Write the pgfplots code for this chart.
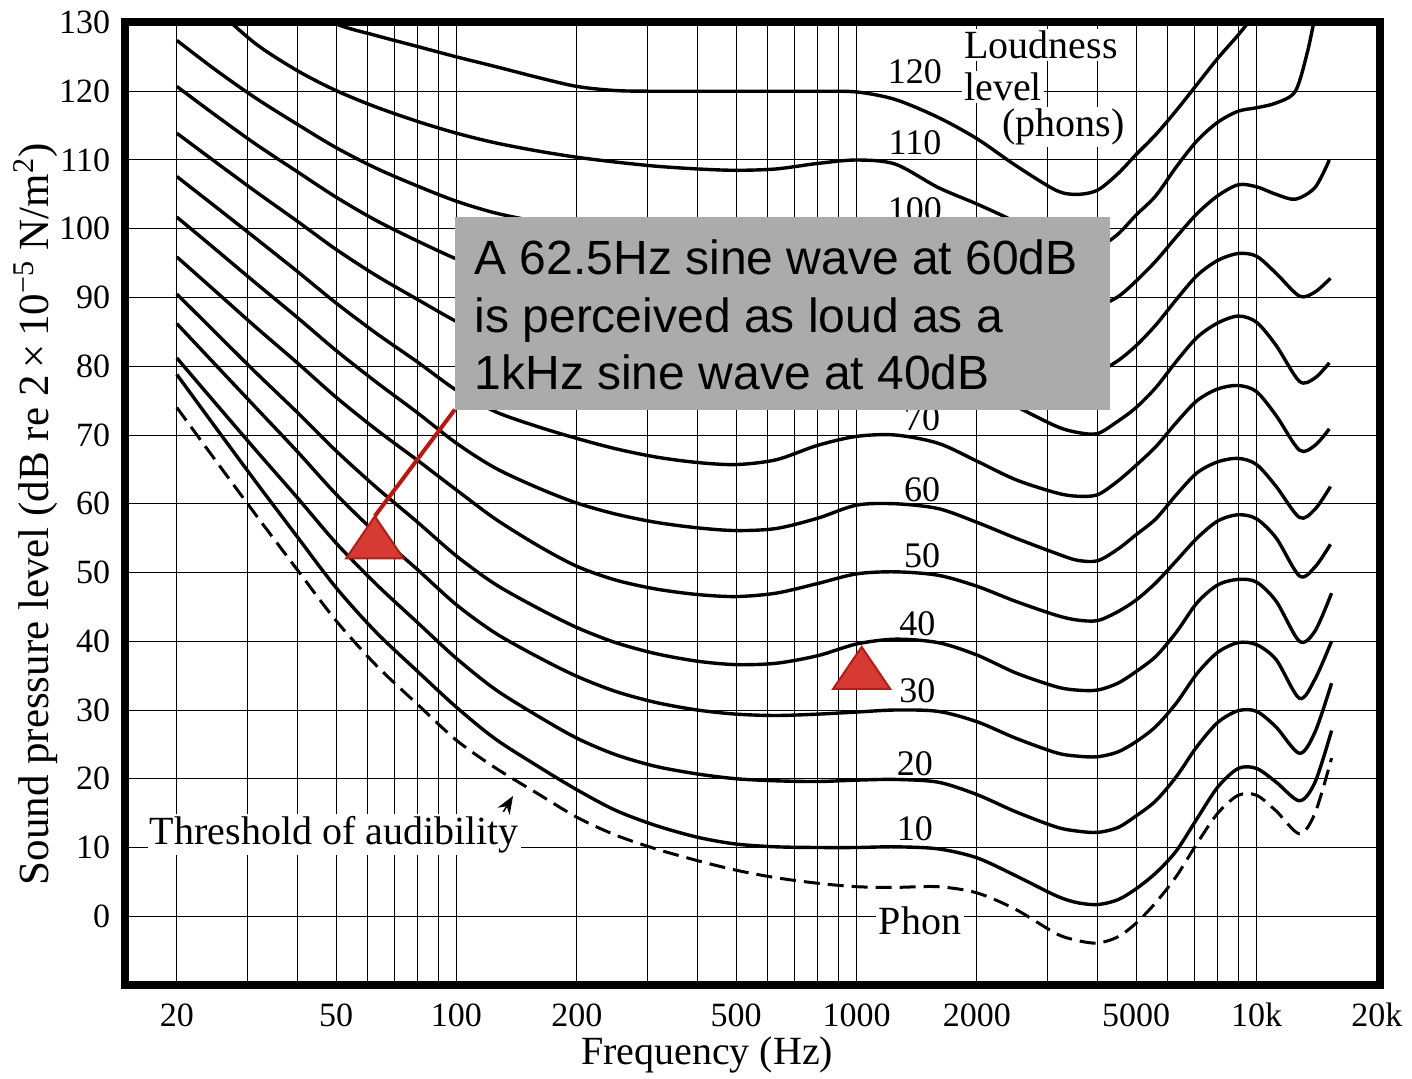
\documentclass[border=0pt]{standalone}
\usepackage{fontspec}
\setmainfont{Liberation Serif}
\newfontfamily\arial{Liberation Sans}
\usepackage{pgfplots}
\pgfplotsset{compat=1.18}
\usetikzlibrary{calc,arrows.meta}

\definecolor{boxgray}{RGB}{171,171,171}
\definecolor{annred}{RGB}{190,22,12}
\definecolor{trifill}{RGB}{214,58,50}
\definecolor{triedge}{RGB}{175,30,25}

\begin{document}
\begin{tikzpicture}
\begin{axis}[
  scale only axis,
  width=627.75pt, height=481.25pt,
  xmode=log,
  xmin=14.8, xmax=20350,
  ymin=-10, ymax=130,
  axis line style={line width=4pt, line cap=rect},
  xtick={20,50,100,200,500,1000,2000,5000,10000,20000},
  xticklabels={20,50,100,200,500,1000,2000,5000,10k,20k},
  minor xtick={30,40,60,70,80,90,300,400,600,700,800,900,3000,4000,6000,7000,8000,9000},
  ytick={0,10,...,130},
  yticklabels={0,10,20,30,40,50,60,70,80,90,100,110,120,130},
  major tick length=0pt, minor tick length=0pt,
  grid=both,
  major grid style={black, line width=0.5pt},
  minor grid style={black, line width=0.5pt},
  tick label style={font=\fontsize{17}{20}\selectfont},
  xticklabel style={anchor=center, yshift=-15pt},
  yticklabel style={anchor=east, inner sep=0pt, xshift=-7pt},
  xlabel={Frequency (Hz)},
  xlabel style={at={(axis description cs:0.464,-0.073)}, anchor=center, font=\fontsize{20}{24}\selectfont},
  ylabel={Sound pressure level (dB re 2\,×\,10\textsuperscript{−5} N/m\textsuperscript{2})},
  ylabel style={at={(axis description cs:-0.071,0.489)}, anchor=center, font=\fontsize{21.5}{25}\selectfont},
  curve/.style={black, line width=1.7pt, smooth, mark=none},
]

% text labels with white background (gridlines broken behind them)
\node[anchor=west, fill=white, inner sep=1pt, font=\fontsize{20}{24}\selectfont] at (axis cs:16.9,11.9) {Threshold of audibility};
\node[fill=white, inner sep=1.5pt, font=\fontsize{20}{24}\selectfont] at (axis cs:1441,-0.6) {Phon};
\node[anchor=west, fill=white, inner sep=1pt, font=\fontsize{20}{24}\selectfont] at (axis cs:1834,126.7) {Loudness};
\node[anchor=west, fill=white, inner sep=1pt, font=\fontsize{20}{24}\selectfont] at (axis cs:1834,120.6) {level};
\node[anchor=west, fill=white, inner sep=1pt, font=\fontsize{20}{24}\selectfont] at (axis cs:2284,114.8) {(phons)};

% curve labels
\begin{scope}[font=\fontsize{18}{20}\selectfont]
\node at (axis cs:1400,122.8) {120};
\node at (axis cs:1400,112.5) {110};
\node at (axis cs:1400,102.8) {100};
\node at (axis cs:1458,72.3) {70};
\node at (axis cs:1458,62.1) {60};
\node at (axis cs:1458,52.4) {50};
\node at (axis cs:1420,42.5) {40};
\node at (axis cs:1420,32.8) {30};
\node at (axis cs:1400,22.2) {20};
\node at (axis cs:1400,12.8) {10};
\end{scope}

\draw[-{Stealth[length=9pt,width=7pt]}, line width=0.8pt] (axis cs:131,15.2) -- (axis cs:138.5,17.5);

% threshold of audibility
\addplot[black, line width=1.5pt, smooth, mark=none, dash pattern=on 8pt off 4pt] coordinates {
(20,74) (25,66.3) (31.5,58.4) (40,50.4) (50,43.0) (63,36.5) (80,30.8) (100,25.6) (125,21.6)
(160,17.8) (200,14.4) (250,11.8) (315,9.8) (400,8.1) (500,6.7) (630,5.6) (800,4.8) (1000,4.3)
(1250,4.2) (1600,4.3) (2000,3.4) (2500,1.0) (3150,-2.5) (3550,-3.5) (4000,-3.9) (4500,-3.0)
(5000,-1.0) (5600,2.0) (6300,5.8) (7100,10.6) (8000,15.0) (9000,17.6) (10000,17.6) (11200,15.3)
(12800,12.0) (14000,15) (15400,23)};

% 10 phon
\addplot[curve] coordinates {
(20,78.8) (25,71.1) (31.5,63.2) (40,55.2) (50,47.8) (63,41.3) (80,35.6) (100,30.4) (125,25.8)
(160,21.8) (200,18.4) (250,15.4) (315,13.2) (400,11.5) (500,10.5) (630,10.1) (800,10.0)
(1000,10.0) (1250,10.1) (1600,9.8) (2000,8.5) (2500,5.9) (3150,3.0) (3550,2.0) (4000,1.7)
(4500,2.4) (5000,4.0) (5600,6.3) (6300,9.5) (7100,14.2) (8000,18.8) (9000,21.5) (10000,21.5)
(11200,19.5) (12800,16.8) (14000,19.5) (15400,27)};

% 20 phon
\addplot[curve] coordinates {
(20,81.2) (25,74.6) (31.5,67.8) (40,60.9) (50,54.3) (63,48.3) (80,42.7) (100,37.5) (125,33.0)
(160,29.1) (200,25.9) (250,23.5) (315,21.8) (400,20.7) (500,20.0) (630,19.7) (800,19.6)
(1000,19.8) (1250,19.9) (1600,19.5) (2000,17.7) (2500,15.2) (3150,13.0) (3550,12.4) (4000,12.2)
(4500,12.9) (5000,14.6) (5600,16.8) (6300,20.3) (7100,24.7) (8000,28.2) (9000,29.9) (10000,29.8)
(11200,27.5) (12800,23.7) (14000,26.8) (15400,33.9)};

% 30 phon
\addplot[curve] coordinates {
(20,86.2) (25,80.2) (31.5,74.0) (40,67.6) (50,61.4) (63,55.7) (80,50.4) (100,45.3) (125,41.2)
(160,37.7) (200,34.9) (250,32.7) (315,31.1) (400,30.0) (500,29.4) (630,29.2) (800,29.4)
(1000,29.7) (1250,30.0) (1600,29.8) (2000,28.3) (2500,25.9) (3150,23.8) (3550,23.3) (4000,23.2)
(4500,23.9) (5000,25.4) (5600,27.6) (6300,31.0) (7100,35.3) (8000,38.4) (9000,39.8) (10000,39.5)
(11200,37.3) (12800,31.7) (14000,34.5) (15400,40)};

% 40 phon
\addplot[curve] coordinates {
(20,90.5) (25,84.9) (31.5,79.1) (40,73.3) (50,67.7) (63,62.4) (80,57.3) (100,52.4) (125,48.3)
(160,44.8) (200,42.0) (250,39.8) (315,38.2) (400,37.1) (500,36.6) (630,36.8) (800,37.9)
(1000,39.6) (1250,40.3) (1600,39.8) (2000,38.0) (2500,35.4) (3150,33.4) (3550,32.9) (4000,32.9)
(4500,33.9) (5000,35.6) (5600,37.8) (6300,41.3) (7100,45.6) (8000,48.2) (9000,49.0) (10000,48.6)
(11200,45.8) (12800,40.0) (14000,41.5) (15400,47)};

% 50 phon
\addplot[curve] coordinates {
(20,95.9) (25,90.9) (31.5,85.7) (40,80.5) (50,75.5) (63,70.8) (80,66.3) (100,62.0) (125,57.8)
(160,53.9) (200,50.9) (250,48.9) (315,47.6) (400,46.8) (500,46.5) (630,47.0) (800,48.4)
(1000,49.8) (1250,50.1) (1600,49.6) (2000,48.0) (2500,45.8) (3150,43.8) (3550,43.1) (4000,43.0)
(4500,44.3) (5000,46.0) (5600,48.5) (6300,51.7) (7100,55.0) (8000,57.5) (9000,58.4) (10000,57.8)
(11200,55.0) (12800,49.5) (14000,50.8) (15300,54.1)};

% 60 phon
\addplot[curve] coordinates {
(20,101.7) (25,97.0) (31.5,92.1) (40,87.1) (50,82.3) (63,77.7) (80,73.2) (100,68.8) (125,65.2)
(160,62.3) (200,60.1) (250,58.5) (315,57.3) (400,56.5) (500,56.1) (630,56.4) (800,57.9)
(1000,59.8) (1250,60.0) (1600,59.3) (2000,57.3) (2500,55.0) (3150,52.8) (3550,51.8) (4000,51.7)
(4500,53.4) (5000,55.5) (5600,57.8) (6300,61.3) (7100,64.5) (8000,66.1) (9000,66.6) (10000,65.7)
(11200,62.5) (12800,58) (14000,59.2) (15300,62.5)};

% 70 phon
\addplot[curve] coordinates {
(20,107.6) (25,103.2) (31.5,98.6) (40,93.8) (50,89.2) (63,84.8) (80,80.6) (100,76.5) (125,73.4)
(160,71.2) (200,69.5) (250,68.0) (315,66.8) (400,66.0) (500,65.7) (630,66.4) (800,68.5)
(1000,69.8) (1250,70.0) (1600,68.8) (2000,66.2) (2500,63.5) (3150,61.6) (3550,61.1) (4000,61.3)
(4500,63.3) (5000,65.6) (5600,68.3) (6300,71.8) (7100,75.0) (8000,76.7) (9000,77.2) (10000,76.3)
(11200,72.8) (12800,67.8) (14000,68.5) (15200,70.9)};

% 80 phon
\addplot[curve] coordinates {
(20,113.9) (25,109.7) (31.5,105.4) (40,101.1) (50,97.0) (63,93.2) (80,89.7) (100,86.5) (125,83.7)
(160,81.4) (200,79.6) (250,78.2) (315,77.1) (400,76.3) (500,75.9) (630,76.3) (800,78.0)
(1000,79.8) (1250,80.0) (1600,79.0) (2000,77.3) (2500,74.2) (3150,71.3) (3550,70.4) (4000,70.2)
(4500,72.0) (5000,74.0) (5600,76.9) (6300,80.7) (7100,84.2) (8000,86.3) (9000,87.3) (10000,86.4)
(11200,83.0) (12800,77.8) (14000,78.3) (15200,80.5)};

% 90 phon
\addplot[curve] coordinates {
(20,120.7) (25,116.5) (31.5,112.3) (40,108.3) (50,104.6) (63,101.2) (80,98.2) (100,95.6) (125,93.4)
(160,91.6) (200,90.1) (250,89.0) (315,88.2) (400,87.6) (500,87.3) (630,87.7) (800,88.8)
(1000,90.0) (1250,90.0) (1600,89.0) (2000,86.8) (2500,83.7) (3150,80.7) (3550,79.4) (4000,79.2)
(4500,80.8) (5000,83.0) (5600,86.0) (6300,89.7) (7100,93.2) (8000,95.4) (9000,96.4) (10000,96.0)
(11200,93.5) (12800,90.2) (14000,90.8) (15300,92.8)};

% 100 phon
\addplot[curve] coordinates {
(20,127.4) (25,123.1) (31.5,119.0) (40,115.2) (50,111.8) (63,108.8) (80,106.2) (100,104.0)
(125,102.3) (160,101.0) (200,100.0) (250,99.2) (315,98.5) (400,98.0) (500,97.7) (630,97.9)
(800,98.8) (1000,100.0) (1250,99.8) (1600,98.6) (2000,96.2) (2500,93.2) (3150,90.2) (3550,89.0)
(4000,88.8) (4500,90.1) (5000,92.4) (5600,95.3) (6300,98.8) (7100,102.2) (8000,104.8)
(9000,106.4) (10000,106.1) (11200,105.0) (12500,104.3) (14000,106.0) (15200,110)};

% 110 phon
\addplot[curve] coordinates {
(25,132) (31.5,126.9) (40,123.0) (50,120.1) (63,117.7) (80,115.6) (100,113.9) (125,112.5)
(160,111.3) (200,110.4) (250,109.7) (315,109.1) (400,108.7) (500,108.5) (630,108.7) (800,109.5)
(1000,110.0) (1250,109.4) (1600,106.0) (2000,103.6) (2500,101.0) (3150,98.0) (3550,96.9)
(4000,97.2) (4500,99.2) (5000,102.0) (5600,104.8) (6300,109.0) (7100,112.8) (8000,115.5)
(9000,117.1) (10000,117.6) (11200,118.3) (12500,120.0) (13400,125.7) (14000,131)};

% 120 phon
\addplot[curve] coordinates {
(40,133) (50,129.8) (63,128.1) (80,126.5) (100,125.0) (125,123.6) (160,122.0) (200,120.7)
(250,120.1) (315,120) (400,120) (500,120) (630,120) (800,120) (1000,119.9) (1250,118.8)
(1600,116.2) (2000,113.1) (2500,109.2) (3150,105.6) (3550,105.0) (4000,105.6) (4500,108.0)
(5000,110.8) (5600,113.7) (6300,117.2) (7100,121.0) (8000,124.8) (9000,128.2) (10000,131.5)};

% annotation
\draw[annred, line width=2pt] (axis cs:99.1,73.7) -- (axis cs:62.5,58.2);
\fill[boxgray] (axis cs:99.1,101.7) rectangle (axis cs:4300,73.7);
\node[anchor=north west, inner sep=0pt, align=left, font=\arial\fontsize{24}{28.75}\selectfont]
  at (axis cs:110.8,98.4) {A 62.5Hz sine wave at 60dB\\is perceived as loud as a\\1kHz sine wave at 40dB};

\addplot[only marks, mark=triangle*, mark size=16.5pt,
  mark options={fill=trifill, draw=triedge, line width=1pt, yscale=0.85}]
  coordinates {(62.5,54.1) (1030,35.1)};

\end{axis}
\pgfresetboundingbox
\path[use as bounding box] ($(current axis.south west)+(-62.25pt,-46.5pt)$) rectangle ($(current axis.north east)+(16pt,11.25pt)$);
\end{tikzpicture}
\end{document}
